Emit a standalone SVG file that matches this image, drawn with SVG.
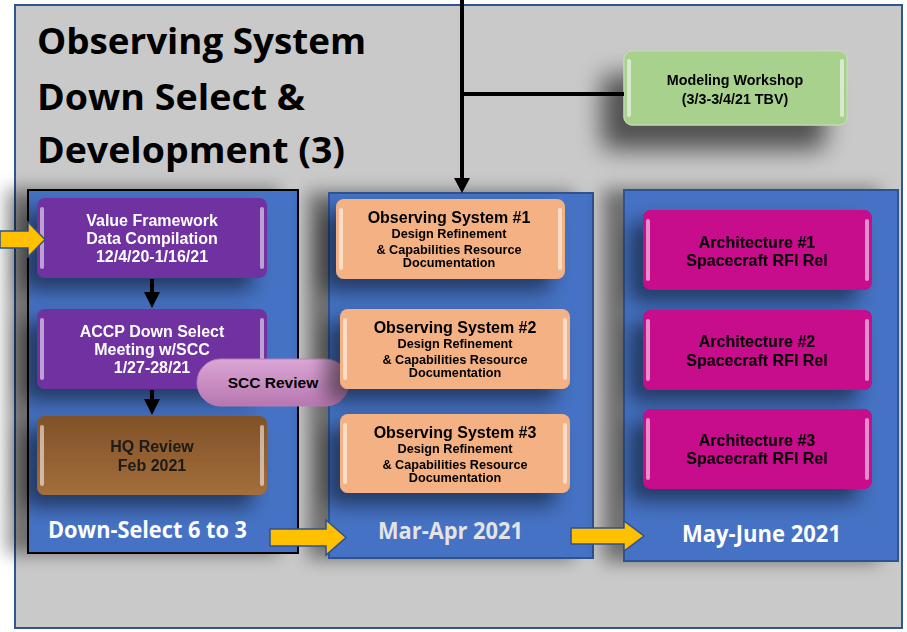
<svg xmlns="http://www.w3.org/2000/svg" width="907" height="632" viewBox="0 0 907 632">
<defs>
<style>
.t{font-family:"Liberation Sans",Arial,sans-serif;font-weight:bold;text-anchor:middle}
.w{fill:#ffffff}
.k{fill:#000000}
.big{font-family:"Open Sans","Liberation Sans",sans-serif;font-weight:bold}
.hl{fill:#ffffff;opacity:0.55}
.col{fill:#4472c4}
.ya{fill:#ffc000;stroke:#2f528f;stroke-width:1.5;stroke-linejoin:miter}
</style>
<filter id="colsh" x="-30%" y="-10%" width="160%" height="120%">
<feGaussianBlur in="SourceAlpha" stdDeviation="9"/>
<feOffset dx="-20" dy="0"/>
<feComponentTransfer><feFuncA type="linear" slope="0.45"/></feComponentTransfer>
<feMerge><feMergeNode/><feMergeNode in="SourceGraphic"/></feMerge>
</filter>
<filter id="boxsh" x="-30%" y="-40%" width="160%" height="190%">
<feGaussianBlur in="SourceAlpha" stdDeviation="10"/>
<feOffset dx="-14" dy="12"/>
<feComponentTransfer><feFuncA type="linear" slope="0.5"/></feComponentTransfer>
<feMerge><feMergeNode/><feMergeNode in="SourceGraphic"/></feMerge>
</filter>
<filter id="grsh" x="-40%" y="-40%" width="180%" height="220%">
<feGaussianBlur in="SourceAlpha" stdDeviation="12"/>
<feOffset dx="-22" dy="24"/>
<feComponentTransfer><feFuncA type="linear" slope="0.6"/></feComponentTransfer>
<feMerge><feMergeNode/><feMergeNode in="SourceGraphic"/></feMerge>
</filter>
<linearGradient id="brown" x1="0" y1="0" x2="0" y2="1">
<stop offset="0" stop-color="#805128"/>
<stop offset="1" stop-color="#a46e3c"/>
</linearGradient>
<linearGradient id="pill" x1="0" y1="0" x2="0" y2="1">
<stop offset="0" stop-color="#dba6d6"/>
<stop offset="1" stop-color="#b777b0"/>
</linearGradient>
</defs>

<rect x="0" y="0" width="907" height="632" fill="#ffffff"/>
<rect id="panel" x="15" y="5" width="887" height="623" fill="#c9c9c9" stroke="#2f5597" stroke-width="2"/>

<g id="title">
<text class="big" x="37" y="54" font-size="36" textLength="329" lengthAdjust="spacingAndGlyphs">Observing System</text>
<text class="big" x="37" y="110" font-size="36" textLength="268" lengthAdjust="spacingAndGlyphs">Down Select &amp;</text>
<text class="big" x="37" y="163" font-size="36" textLength="308" lengthAdjust="spacingAndGlyphs">Development (3)</text>
</g>

<g id="col1" filter="url(#colsh)">
<rect class="col" x="28" y="190" width="270" height="363" stroke="#000000" stroke-width="2"/>
</g>
<g id="col2" filter="url(#colsh)">
<rect class="col" x="329" y="193" width="264" height="365" stroke="#2f528f" stroke-width="2"/>
</g>
<g id="col3" filter="url(#colsh)">
<rect class="col" x="624" y="190" width="274" height="371" stroke="#2f528f" stroke-width="2"/>
</g>
<g id="col-labels">
<text class="big w" x="48" y="538" font-size="22.5" textLength="199" lengthAdjust="spacingAndGlyphs">Down-Select 6 to 3</text>
<text class="big" x="378" y="539" font-size="22.5" fill="#e4e4e4" textLength="145" lengthAdjust="spacingAndGlyphs">Mar-Apr 2021</text>
<text class="big w" x="682" y="542" font-size="22.5" textLength="159" lengthAdjust="spacingAndGlyphs">May-June 2021</text>
</g>

<g id="modeling" filter="url(#grsh)">
<rect x="624" y="51" width="223" height="74" rx="8" fill="#a9d18e" stroke="#c5e0b4" stroke-width="1"/>
<rect class="hl" x="627" y="59" width="4" height="58" rx="2"/>
<rect class="hl" x="840" y="59" width="4" height="58" rx="2"/>
<text class="t k" x="735" y="85" font-size="14.3">Modeling Workshop</text>
<text class="t k" x="735" y="104" font-size="14.3">(3/3-3/4/21 TBV)</text>
</g>

<g id="value" filter="url(#boxsh)">
<rect x="37" y="198" width="230" height="80" rx="8" fill="#7030a0"/>
<rect class="hl" x="40" y="207" width="4" height="62" rx="2"/>
<rect class="hl" x="260" y="207" width="4" height="62" rx="2"/>
<text class="t w" x="152" y="226" font-size="16">Value Framework</text>
<text class="t w" x="152" y="244" font-size="16">Data Compilation</text>
<text class="t w" x="152" y="262" font-size="16">12/4/20-1/16/21</text>
</g>

<g id="accp" filter="url(#boxsh)">
<rect x="37" y="309" width="230" height="80" rx="8" fill="#7030a0"/>
<rect class="hl" x="40" y="318" width="4" height="62" rx="2"/>
<rect class="hl" x="260" y="318" width="4" height="62" rx="2"/>
<text class="t w" x="152" y="337" font-size="16">ACCP Down Select</text>
<text class="t w" x="152" y="355" font-size="16">Meeting w/SCC</text>
<text class="t w" x="152" y="373" font-size="16">1/27-28/21</text>
</g>

<g id="hq" filter="url(#boxsh)">
<rect x="37" y="416" width="230" height="79" rx="8" fill="url(#brown)"/>
<rect class="hl" x="40" y="425" width="4" height="61" rx="2"/>
<rect class="hl" x="260" y="425" width="4" height="61" rx="2"/>
<text class="t" x="152" y="452" font-size="16" fill="#1a1a1a">HQ Review</text>
<text class="t" x="152" y="471" font-size="16" fill="#1a1a1a">Feb 2021</text>
</g>

<g id="scc">
<rect x="197" y="359" width="152" height="47" rx="23.5" fill="url(#pill)" stroke="#b77fb1" stroke-width="1"/>
<text class="t k" x="273" y="388" font-size="15.5">SCC Review</text>
</g>

<g id="os1" filter="url(#boxsh)">
<rect x="336" y="199" width="229" height="80" rx="8" fill="#f4b183"/>
<rect class="hl" x="339" y="208" width="4" height="62" rx="2"/>
<rect class="hl" x="558" y="208" width="4" height="62" rx="2"/>
<text class="t k" x="449" y="223" font-size="16">Observing System #1</text>
<text class="t k" x="449" y="238" font-size="12.7">Design Refinement</text>
<text class="t k" x="449" y="254" font-size="12.7">&amp; Capabilities Resource</text>
<text class="t k" x="449" y="267" font-size="12.7">Documentation</text>
</g>

<g id="os2" filter="url(#boxsh)">
<rect x="340" y="309" width="230" height="80" rx="8" fill="#f4b183"/>
<rect class="hl" x="343" y="318" width="4" height="62" rx="2"/>
<rect class="hl" x="563" y="318" width="4" height="62" rx="2"/>
<text class="t k" x="455" y="333" font-size="16">Observing System #2</text>
<text class="t k" x="455" y="348" font-size="12.7">Design Refinement</text>
<text class="t k" x="455" y="364" font-size="12.7">&amp; Capabilities Resource</text>
<text class="t k" x="455" y="377" font-size="12.7">Documentation</text>
</g>

<g id="os3" filter="url(#boxsh)">
<rect x="340" y="414" width="230" height="79" rx="8" fill="#f4b183"/>
<rect class="hl" x="343" y="423" width="4" height="61" rx="2"/>
<rect class="hl" x="563" y="423" width="4" height="61" rx="2"/>
<text class="t k" x="455" y="438" font-size="16">Observing System #3</text>
<text class="t k" x="455" y="453" font-size="12.7">Design Refinement</text>
<text class="t k" x="455" y="469" font-size="12.7">&amp; Capabilities Resource</text>
<text class="t k" x="455" y="482" font-size="12.7">Documentation</text>
</g>

<g id="arch1" filter="url(#boxsh)">
<rect x="643" y="210" width="229" height="80" rx="8" fill="#c8078c"/>
<rect class="hl" x="646" y="219" width="4" height="62" rx="2"/>
<rect class="hl" x="865" y="219" width="4" height="62" rx="2"/>
<text class="t k" x="757" y="248" font-size="16">Architecture #1</text>
<text class="t k" x="757" y="266" font-size="16">Spacecraft RFI Rel</text>
</g>

<g id="arch2" filter="url(#boxsh)">
<rect x="643" y="310" width="229" height="80" rx="8" fill="#c8078c"/>
<rect class="hl" x="646" y="319" width="4" height="62" rx="2"/>
<rect class="hl" x="865" y="319" width="4" height="62" rx="2"/>
<text class="t k" x="757" y="347" font-size="16">Architecture #2</text>
<text class="t k" x="757" y="366" font-size="16">Spacecraft RFI Rel</text>
</g>

<g id="arch3" filter="url(#boxsh)">
<rect x="643" y="409" width="229" height="80" rx="8" fill="#c8078c"/>
<rect class="hl" x="646" y="418" width="4" height="62" rx="2"/>
<rect class="hl" x="865" y="418" width="4" height="62" rx="2"/>
<text class="t k" x="757" y="446" font-size="16">Architecture #3</text>
<text class="t k" x="757" y="464" font-size="16">Spacecraft RFI Rel</text>
</g>

<g id="connectors">
<line x1="462" y1="0" x2="462" y2="180" stroke="#000" stroke-width="4"/>
<polygon points="454,178 470,178 462,193" fill="#000"/>
<line x1="462" y1="94" x2="624" y2="94" stroke="#000" stroke-width="4"/>
<line x1="152" y1="279" x2="152" y2="294" stroke="#000" stroke-width="4"/>
<polygon points="144,292 160,292 152,308" fill="#000"/>
<line x1="152" y1="390" x2="152" y2="401" stroke="#000" stroke-width="4"/>
<polygon points="144,399 160,399 152,415" fill="#000"/>
<polygon class="ya" points="0,231 28,231 28,222 45,239.5 28,257 28,248 0,248"/>
<polygon class="ya" points="270,529 326,529 326,520 346,537.5 326,555 326,546 270,546"/>
<polygon class="ya" points="571,528 624,528 624,521 644,536 624,551 624,544 571,544"/>
</g>
</svg>
